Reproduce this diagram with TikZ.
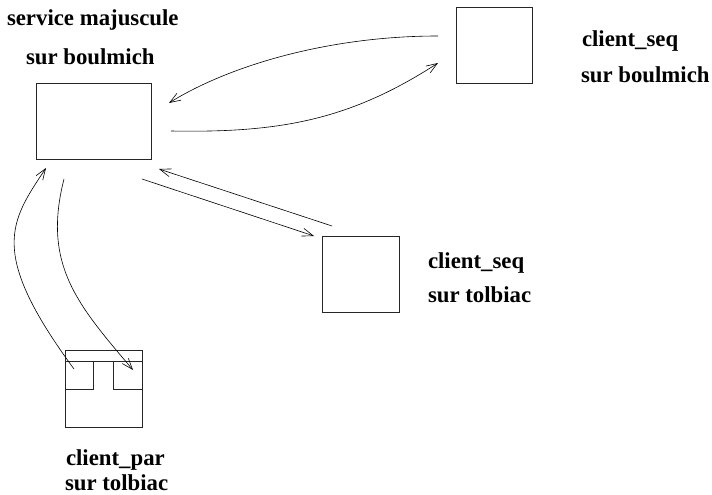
\documentclass[tikz,border=0pt]{standalone}
\usepackage{fontspec}
\setmainfont{Liberation Serif}
\usetikzlibrary{arrows.meta,calc}
\begin{document}
\begin{tikzpicture}[x=1pt,y=-1pt,
  box/.style={draw=black!85,line width=0.9pt,inner sep=0,outer sep=0},
  lbl/.style={anchor=base west,inner sep=0,outer sep=0,font=\fontsize{22.8}{27}\selectfont\bfseries},
  conn/.style={line width=0.6pt,-{Straight Barb[length=11pt,width=8pt,line width=0.6pt]}}]
\useasboundingbox (0,0) rectangle (712,495);
% boxes
\node[box,minimum width=115pt,minimum height=76pt] (svc) at (93.5,121) {};
\node[box,minimum width=76pt,minimum height=76pt] (cs1) at (494,45) {};
\node[box,minimum width=77pt,minimum height=76pt] (cs2) at (360.5,274) {};
\node[box,minimum width=77pt,minimum height=77pt] (cp) at (103.5,388.5) {};
\node[box,minimum width=28pt,minimum height=28pt] (cpl) at (79,375) {};
\node[box,minimum width=29pt,minimum height=28pt] (cpr) at (127.5,375) {};
\draw[box] (cpl.north west) -- (cpr.north east);
% labels
\node[lbl] (t1) at (7,26) {service majuscule};
\node[lbl] (t2) at (26,64) {sur boulmich};
\node[lbl] (t3) at (582,47) {client\_seq};
\node[lbl] (t4) at (581,82) {sur boulmich};
\node[lbl] (t5) at (428,268) {client\_seq};
\node[lbl] (t6) at (428,302) {sur tolbiac};
\node[lbl] (t7) at (66,465) {client\_par};
\node[lbl] (t8) at (65,490.5) {sur tolbiac};
% connector end points
\coordinate (a1) at (438,36);  \coordinate (a2) at (169,103);
\coordinate (b1) at (171,131); \coordinate (b2) at (438,63);
\coordinate (c1) at (142,179); \coordinate (c2) at (314,236);
\coordinate (d1) at (332,226); \coordinate (d2) at (159,169);
\coordinate (e1) at (74,369);  \coordinate (e2) at (46,168);
\coordinate (f1) at (64,179);  \coordinate (f2) at (133,370);
% connectors
\draw[conn] (a1) .. controls (330,36) and (230,65) .. (a2);
\draw[conn] (b1) .. controls (280,133) and (350,120) .. (b2);
\draw[conn] (c1) -- (c2);
\draw[conn] (d1) -- (d2);
\draw[conn] (e1) .. controls (-12,252) and (10,222) .. (e2);
\draw[conn] (f1) .. controls (42,265) and (78,305) .. (f2);
\end{tikzpicture}
\end{document}
